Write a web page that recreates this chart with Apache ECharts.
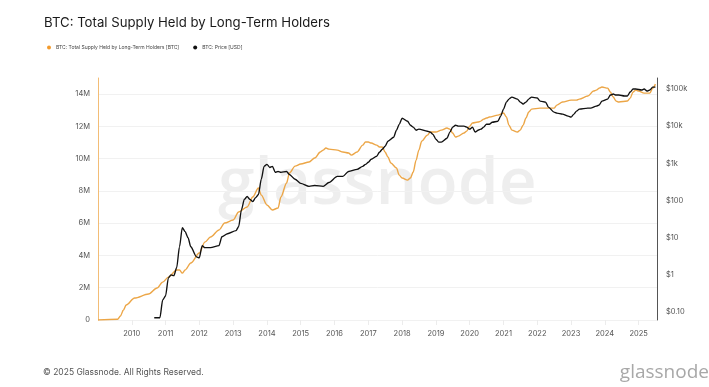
<!DOCTYPE html>
<html>
<head>
<meta charset="utf-8">
<script src="https://cdn.jsdelivr.net/npm/echarts@6/dist/echarts.min.js"></script>
<style>
html,body{margin:0;padding:0;background:#fff;}
#chart{width:709px;height:387px;}
</style>
</head>
<body>
<div id="chart"></div>
<script>
// Long-term holder supply (millions of BTC)
const lthDates = ['2009-01','2009-08','2009-09','2009-10','2009-11','2010-02','2010-07','2010-10','2010-12','2011-02','2011-05','2011-06','2011-07','2011-08','2011-10','2012-01','2012-03','2012-05','2012-08','2012-10','2013-01','2013-03','2013-06','2013-08','2013-10','2013-11','2014-01','2014-03','2014-05','2014-06','2014-08','2014-09','2014-11','2015-01','2015-04','2015-06','2015-08','2015-09','2015-10','2015-11','2016-02','2016-04','2016-06','2016-07','2016-09','2016-11','2016-12','2017-01','2017-02','2017-04','2017-05','2017-06','2017-07','2017-08','2017-09','2017-11','2017-12','2018-01','2018-03','2018-04','2018-05','2018-06','2018-07','2018-08','2018-10','2018-11','2019-01','2019-03','2019-05','2019-06','2019-07','2019-08','2019-09','2019-11','2019-12','2020-01','2020-02','2020-04','2020-05','2020-06','2020-07','2020-08','2020-11','2021-01','2021-02','2021-03','2021-04','2021-06','2021-07','2021-08','2021-09','2021-10','2021-11','2022-02','2022-04','2022-07','2022-08','2022-10','2023-01','2023-03','2023-04','2023-07','2023-09','2023-10','2023-11','2023-12','2024-02','2024-03','2024-04','2024-05','2024-06','2024-09','2024-10','2024-11','2024-12','2025-01','2025-03','2025-05','2025-06','2025-07'];
const lthValues = [0,0.05,0.25,0.6,0.93,1.36,1.61,1.98,2.35,2.66,3.10,3.10,2.91,3.10,3.53,4.15,4.83,5.14,5.58,6.01,6.20,6.69,7.00,7.62,8.18,7.74,7.13,6.82,6.94,7.62,8.49,9.11,9.54,9.67,9.79,10.04,10.41,10.53,10.66,10.59,10.53,10.41,10.35,10.22,10.41,10.84,11.03,11.03,10.97,10.84,10.72,10.72,10.41,10.10,9.73,9.42,8.98,8.80,8.67,8.80,9.17,9.91,10.53,11.09,11.46,11.65,11.65,11.77,11.90,11.83,11.59,11.34,11.40,11.59,11.71,12.02,12.21,12.27,12.33,12.45,12.52,12.58,12.70,12.83,12.58,12.08,11.77,11.65,11.77,12.08,12.52,12.89,13.07,13.13,13.13,13.13,13.32,13.51,13.63,13.63,13.69,13.88,14.19,14.25,14.37,14.44,14.37,14.13,13.82,13.57,13.51,13.57,13.75,14.13,14.25,14.19,14.06,14.06,14.37,14.62];

// BTC price (USD)
const priceDates = ['2010-09','2010-11','2010-12','2011-01','2011-02','2011-03','2011-04','2011-05','2011-06','2011-07','2011-08','2011-09','2011-10','2011-12','2012-01','2012-02','2012-03','2012-05','2012-08','2012-09','2012-11','2013-02','2013-03','2013-04','2013-05','2013-06','2013-07','2013-08','2013-09','2013-10','2013-11','2013-12','2014-01','2014-02','2014-03','2014-04','2014-05','2014-06','2014-08','2014-09','2014-11','2015-01','2015-04','2015-06','2015-09','2015-11','2016-02','2016-04','2016-06','2016-09','2016-11','2016-12','2017-01','2017-02','2017-04','2017-05','2017-06','2017-07','2017-08','2017-10','2017-11','2017-12','2018-01','2018-03','2018-04','2018-05','2018-06','2018-07','2018-10','2018-11','2018-12','2019-01','2019-02','2019-03','2019-05','2019-06','2019-07','2019-08','2019-09','2019-11','2019-12','2020-01','2020-02','2020-03','2020-04','2020-05','2020-06','2020-07','2020-08','2020-09','2020-11','2020-12','2021-01','2021-02','2021-03','2021-04','2021-06','2021-07','2021-08','2021-09','2021-10','2021-11','2022-01','2022-02','2022-04','2022-05','2022-07','2022-08','2022-10','2022-12','2023-01','2023-02','2023-03','2023-04','2023-07','2023-08','2023-10','2023-11','2023-12','2024-02','2024-03','2024-04','2024-05','2024-06','2024-08','2024-09','2024-10','2024-11','2024-12','2025-02','2025-03','2025-04','2025-05','2025-06','2025-07'];
const priceValues = [0.07,0.07,0.21,0.27,0.83,1.0,0.95,1.55,5.7,18.6,14.5,10,5.7,3.06,2.88,6.1,5.4,5.4,6.1,10.6,12.8,15.5,19.8,57,107,128,107,94,120,145,373,833,935,776,833,572,605,572,605,500,373,290,240,254,240,306,446,446,605,690,833,935,1070,1290,1550,1990,2400,2880,3940,5030,7780,11200,16400,13600,10600,9400,7780,8300,7330,6920,6050,4460,3720,3720,4740,6920,9400,10600,10000,10000,9400,8300,9400,6920,7780,8300,9400,11300,11300,12800,13600,18600,28800,44600,53700,60400,53700,44600,39400,44600,53700,60400,57200,47400,44600,32500,23900,22400,21100,18600,17500,21100,25400,28800,30600,30600,34600,37100,47400,53700,69000,73300,69000,69000,64900,64900,83000,100000,100000,94000,100000,88400,94000,113000,113000];

const yearLabels = [2010,2011,2012,2013,2014,2015,2016,2017,2018,2019,2020,2021,2022,2023,2024,2025];
const supplyTicks = [0,2,4,6,8,10,12,14];
const priceTicks = [0.1,1,10,100,1000,10000,100000];
const priceTickLabels = ['$0.10','$1','$10','$100','$1k','$10k','$100k'];

const FONT = 'Inter, "Noto Sans", sans-serif';
const toTime = s => { const p = s.split('-'); return new Date(+p[0], +p[1] - 1, 1).getTime(); };
const yearTicks = yearLabels.map(y => new Date(y, 0, 1).getTime());

const chart = echarts.init(document.getElementById('chart'), null, {renderer: 'canvas'});
chart.setOption({
  animation: false,
  backgroundColor: '#ffffff',
  title: {
    text: 'BTC: Total Supply Held by Long-Term Holders',
    left: 39, top: 12,
    textStyle: {fontFamily: FONT, fontSize: 13.2, fontWeight: 'normal', color: '#1a1a1a'}
  },
  legend: {
    left: 42, top: 40,
    itemWidth: 4, itemHeight: 4, itemGap: 14,
    icon: 'circle',
    textStyle: {fontFamily: FONT, fontSize: 5, color: '#444'},
    data: ['BTC: Total Supply Held by Long-Term Holders [BTC]', 'BTC: Price [USD]']
  },
  graphic: [
    {type: 'text', left: 218, top: 152, z: -1, silent: true,
     style: {text: 'glassnode', fontFamily: '"Open Sans", sans-serif', fontSize: 66, fontWeight: 600, fill: 'rgba(0,0,0,0.065)'}},
    {type: 'text', left: 43, top: 368,
     style: {text: '© 2025 Glassnode. All Rights Reserved.', fontFamily: FONT, fontSize: 8.5, fill: '#555'}},
    {type: 'text', right: 0, top: 363,
     style: {text: 'glassnode', fontFamily: '"Open Sans", sans-serif', fontSize: 19, fill: '#a8a8a8'}}
  ],
  grid: {left: 98, right: 52, top: 78, bottom: 67, containLabel: false},
  xAxis: {
    type: 'value',
    min: new Date(2009, 0, 1).getTime(),
    max: new Date(2025, 6, 18).getTime(),
    axisLine: {show: false},
    axisTick: {show: true, length: 5, lineStyle: {color: '#ececec'}, customValues: yearTicks},
    axisLabel: {
      customValues: yearTicks,
      fontFamily: FONT, fontSize: 7.5, color: '#555', margin: 10,
      formatter: v => String(new Date(v).getFullYear())
    },
    splitLine: {show: false}
  },
  yAxis: [
    {
      type: 'value', min: 0, max: 15, interval: 2, position: 'left',
      axisLine: {show: true, lineStyle: {color: '#f3bd76', width: 1}},
      axisTick: {show: false},
      axisLabel: {
        showMaxLabel: false, fontFamily: FONT, fontSize: 7.5, color: '#555', margin: 8,
        formatter: v => supplyTicks.includes(v) ? (v === 0 ? '0' : v + 'M') : ''
      },
      splitLine: {show: true, showMaxLine: false, lineStyle: {color: '#f1f1f1', width: 1}}
    },
    {
      type: 'log', logBase: 10, min: 0.061, max: 198000, position: 'right',
      axisLine: {show: true, lineStyle: {color: '#555', width: 1}},
      axisTick: {show: false},
      axisLabel: {
        customValues: priceTicks,
        fontFamily: FONT, fontSize: 7.5, color: '#555', margin: 9,
        formatter: v => {
          const i = priceTicks.findIndex(p => Math.abs(Math.log10(p) - Math.log10(v)) < 1e-6);
          return i >= 0 ? priceTickLabels[i] : '';
        }
      },
      splitLine: {show: false}
    }
  ],
  series: [
    {
      name: 'BTC: Total Supply Held by Long-Term Holders [BTC]',
      type: 'line', yAxisIndex: 0, showSymbol: false, symbol: 'circle',
      smooth: 0.3, smoothMonotone: 'x',
      itemStyle: {color: '#f39a2c'},
      lineStyle: {color: '#eca647', width: 1.4},
      data: lthDates.map((d, i) => [toTime(d), lthValues[i]])
    },
    {
      name: 'BTC: Price [USD]',
      type: 'line', yAxisIndex: 1, showSymbol: false, symbol: 'circle',
      smooth: 0.25, smoothMonotone: 'x',
      itemStyle: {color: '#111'},
      lineStyle: {color: '#111', width: 1.35},
      data: priceDates.map((d, i) => [toTime(d), priceValues[i]])
    }
  ]
});
</script>
</body>
</html>
